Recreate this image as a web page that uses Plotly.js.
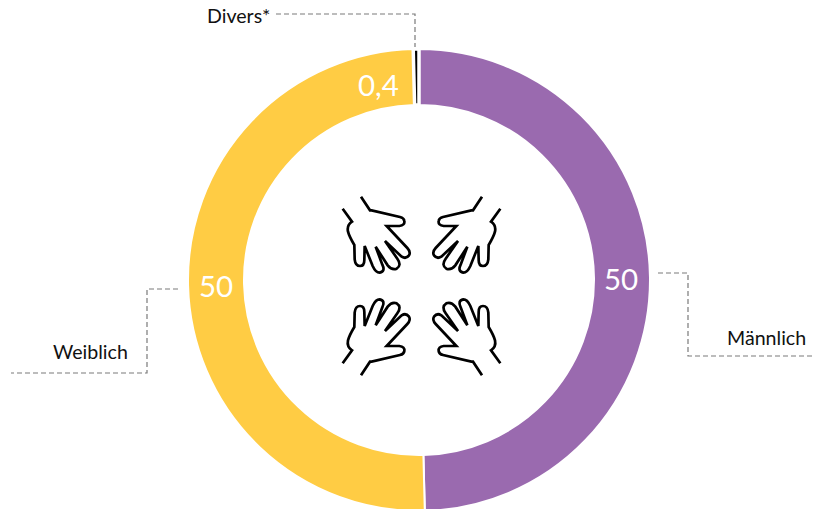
<!DOCTYPE html>
<html><head><meta charset="utf-8">
<script src="https://cdn.plot.ly/plotly-3.0.1.min.js"></script>
<style>html,body{margin:0;padding:0;background:#fff;overflow:hidden}#c{width:819px;height:509px;overflow:hidden}</style>
</head><body><div id="c"></div>
<script>
const W = 819, H = 511;
const categories = ['Männlich', 'Weiblich', 'Divers*'];
const values = [49.6, 50, 0.4];
const valueLabels = ['50', '50', '0,4'];
const colors = ['#9A6AAF', '#FFCC44', '#000000'];
const borderWidths = [2, 2, 3.5];

const px = x => x / W;
const py = y => 1 - y / H;

// label placement, page pixels
const nameAnchors = [[766, 337], [90, 351], [238, 15]];
const valueAnchors = [[621, 278], [216, 285], [378, 84]];
const leaders = [
  [[658, 273], [688, 273], [688, 356], [815, 356]],
  [[178, 289], [147, 289], [147, 373], [11, 373]],
  [[276, 14], [415, 14], [415, 47]]
];

const font = 'Lato, sans-serif';
const annotations = [];
categories.forEach((c, i) => {
  annotations.push({xref: 'paper', yref: 'paper', x: px(nameAnchors[i][0]), y: py(nameAnchors[i][1]),
    text: c, showarrow: false, xanchor: 'center', yanchor: 'middle', font: {family: font, size: 19.6, color: '#111'}});
  annotations.push({xref: 'paper', yref: 'paper', x: px(valueAnchors[i][0]), y: py(valueAnchors[i][1]),
    text: valueLabels[i], showarrow: false, xanchor: 'center', yanchor: 'middle', font: {family: font, size: 29.5, color: '#fff'}});
});

const shapes = leaders.map(pts => ({
  type: 'path', xref: 'paper', yref: 'paper',
  path: pts.map((p, i) => (i ? 'L' : 'M') + px(p[0]) + ',' + py(p[1])).join(' '),
  line: {color: '#7a7a7a', width: 1.2, dash: '5px,3px'}, fillcolor: 'rgba(0,0,0,0)'
}));

// one hand outline, in a 3x local grid relative to the mirror axes
const handOrigin = [320, 180], axisX = 421.5, axisY = 286;
const handSegments = [
  ['M', 68, 86], ['L', 96, 125], ['Q', 80, 135, 84, 155], ['Q', 88, 170, 103, 195],
  ['L', 104, 238], ['Q', 106, 258, 120, 258], ['Q', 133, 258, 133, 240], ['L', 134, 198],
  ['L', 158, 258], ['Q', 167, 278, 179, 278], ['Q', 197, 274, 187, 254], ['L', 167, 200],
  ['L', 203, 256], ['Q', 216, 272, 230, 266], ['Q', 246, 256, 232, 236], ['L', 195, 183],
  ['L', 245, 230], ['Q', 258, 238, 267, 226], ['Q', 273, 216, 262, 204], ['L', 200, 138],
  ['L', 238, 138], ['Q', 255, 136, 253, 123], ['Q', 252, 114, 240, 111], ['L', 155, 91],
  ['L', 150, 91], ['L', 123, 50]
];
[[false, false], [true, false], [false, true], [true, true]].forEach(([mx, my]) => {
  const tx = v => { const x = handOrigin[0] + v / 3; return px(mx ? 2 * axisX - x : x); };
  const ty = v => { const y = handOrigin[1] + v / 3; return py(my ? 2 * axisY - y : y); };
  const path = handSegments.map(s => {
    let out = s[0];
    for (let i = 1; i < s.length; i += 2) out += (i > 1 ? ' ' : '') + tx(s[i]) + ',' + ty(s[i + 1]);
    return out;
  }).join(' ');
  shapes.push({type: 'path', xref: 'paper', yref: 'paper', path,
    line: {color: '#000', width: 2.7}, fillcolor: 'rgba(0,0,0,0)'});
});

Plotly.newPlot('c', [{
  type: 'pie', labels: categories, values: values, sort: false, direction: 'clockwise', rotation: 0,
  hole: 175 / 231, textinfo: 'none', hoverinfo: 'label+value',
  marker: {colors: colors, line: {color: '#fff', width: borderWidths}},
  domain: {x: [19 / W, 1], y: [0, 462 / H]}
}], {
  width: W, height: H, margin: {l: 0, r: 0, t: 0, b: 0}, showlegend: false,
  paper_bgcolor: '#fff', annotations, shapes
}, {displayModeBar: false, staticPlot: true});
</script></body></html>
